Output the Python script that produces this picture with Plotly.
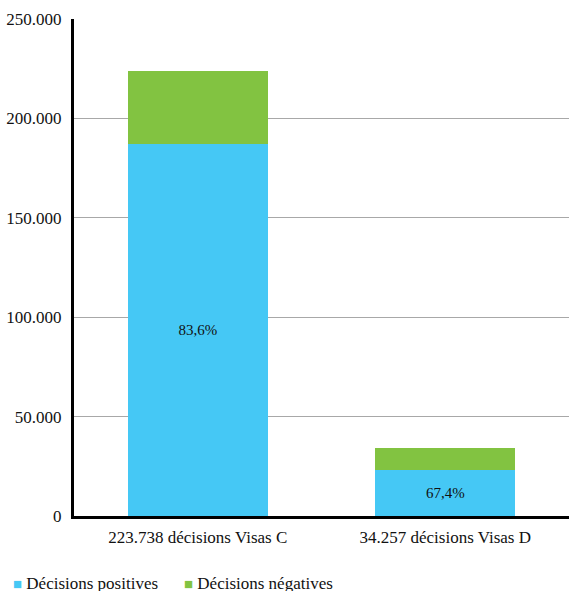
import plotly.graph_objects as go

# Visa decisions by type
categories = ["223.738 décisions Visas C", "34.257 décisions Visas D"]
totals = [223738, 34257]
positive_share = [83.6, 67.4]
positive = [round(t * s / 100) for t, s in zip(totals, positive_share)]
negative = [t - p for t, p in zip(totals, positive)]
positive_labels = ["83,6%", "67,4%"]
tick_values = [0, 50000, 100000, 150000, 200000, 250000]
tick_labels = ["0", "50.000", "100.000", "150.000", "200.000", "250.000"]
series_names = ["Décisions positives", "Décisions négatives"]

FONT = "Liberation Serif"
BLUE = "#45C8F5"
GREEN = "#82C341"
TEXT = "#111111"

fig = go.Figure()
fig.add_trace(go.Bar(
    name=series_names[0],
    x=categories,
    y=positive,
    marker=dict(color=BLUE, line=dict(width=0)),
    text=positive_labels,
    textposition="inside",
    insidetextanchor="middle",
    textangle=0,
    constraintext="none",
    textfont=dict(family=FONT, size=15, color=TEXT),
    hoverinfo="skip",
))
fig.add_trace(go.Bar(
    name=series_names[1],
    x=categories,
    y=negative,
    marker=dict(color=GREEN, line=dict(width=0)),
    hoverinfo="skip",
))

# Compact legend row under the chart
legend_items = [(series_names[0], BLUE, 0.0), (series_names[1], GREEN, 0.347)]
for name, color, xpos in legend_items:
    fig.add_annotation(
        text=f"<span style='color:{color}; font-size:15px'>■</span>&nbsp;{name}",
        xref="paper", yref="paper",
        x=-0.128 + xpos, y=-0.113,
        xanchor="left", yanchor="top",
        showarrow=False,
        font=dict(family=FONT, size=17, color=TEXT),
    )

fig.update_layout(
    barmode="stack",
    bargap=0.434,
    width=569,
    height=591,
    margin=dict(l=74, r=0, t=19, b=75, autoexpand=False),
    paper_bgcolor="white",
    plot_bgcolor="white",
    font=dict(family=FONT, size=17, color=TEXT),
    showlegend=False,
    xaxis=dict(
        showline=True,
        linecolor="#000000",
        linewidth=3,
        showgrid=False,
        ticks="",
        ticklabelstandoff=4,
        tickfont=dict(family=FONT, size=17, color=TEXT),
    ),
    yaxis=dict(
        range=[0, 250000],
        tickvals=tick_values,
        ticktext=tick_labels,
        showline=True,
        linecolor="#000000",
        linewidth=3,
        showgrid=True,
        gridcolor="#a8a8a8",
        gridwidth=1,
        zeroline=False,
        ticks="",
        ticklabelstandoff=6,
        tickfont=dict(family=FONT, size=17, color=TEXT),
    ),
)

fig.write_html("out.html")
